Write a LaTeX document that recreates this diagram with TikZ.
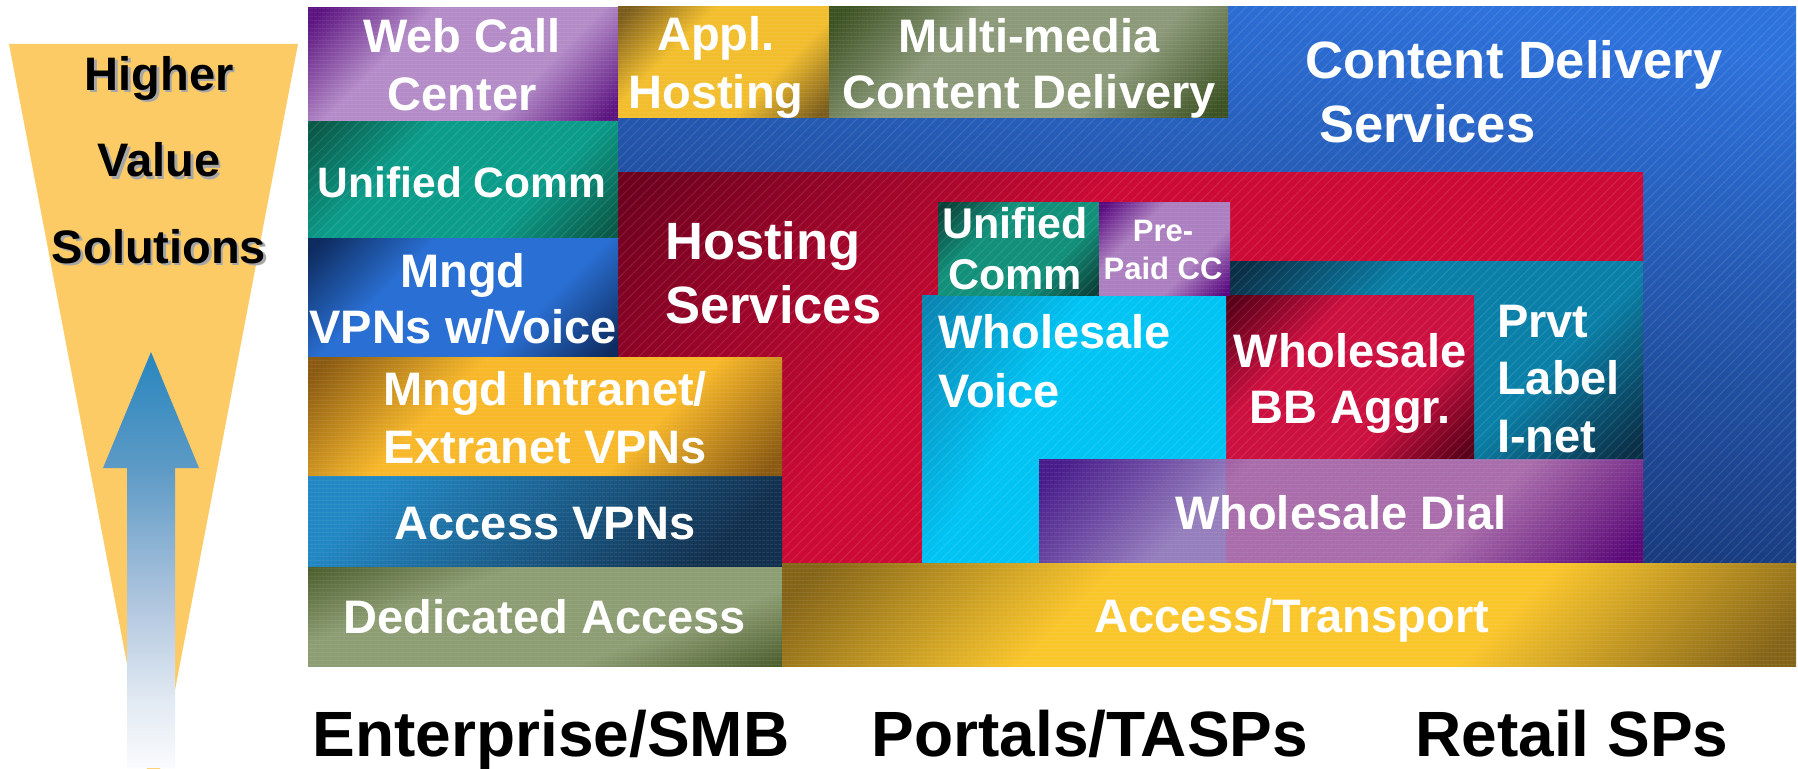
\documentclass[tikz,border=0pt]{standalone}
\usepackage{fontspec}
\setmainfont{Liberation Sans}
\usetikzlibrary{patterns.meta}

% colours of the blocks (dark / light pairs)
\definecolor{wccDk}{HTML}{5C1480}\definecolor{wccLt}{HTML}{B48CC8}
\definecolor{applDk}{HTML}{7A5C1C}\definecolor{applLt}{HTML}{F2BE2E}
\definecolor{mmDk}{HTML}{3C5222}\definecolor{mmLt}{HTML}{8C9A7A}
\definecolor{cdsDk}{HTML}{142E68}\definecolor{cdsLt}{HTML}{2E72DC}
\definecolor{hostDk}{HTML}{6E001E}\definecolor{hostLt}{HTML}{CC0A35}
\definecolor{prvtDk}{HTML}{0A3048}\definecolor{prvtLt}{HTML}{0A80A8}
\definecolor{wbbDk}{HTML}{5A0018}\definecolor{wbbLt}{HTML}{CC1040}
\definecolor{wvDk}{HTML}{0A82B0}\definecolor{wvLt}{HTML}{00C4F4}
\definecolor{wdDk}{HTML}{500A80}\definecolor{wdLt}{HTML}{A678B8}
\definecolor{ucsDk}{HTML}{0A4038}\definecolor{ucsLt}{HTML}{12907A}
\definecolor{ppDk}{HTML}{5A0A80}\definecolor{ppLt}{HTML}{AC80C0}
\definecolor{ucDk}{HTML}{0A5A48}\definecolor{ucLt}{HTML}{0C9C8A}
\definecolor{mvpnDk}{HTML}{0E2C60}\definecolor{mvpnLt}{HTML}{2A70D4}
\definecolor{mieDk}{HTML}{8A5A12}\definecolor{mieLt}{HTML}{F8B82A}
\definecolor{avpnLt}{HTML}{2288C4}\definecolor{avpnDk}{HTML}{12304E}
\definecolor{daDk}{HTML}{485A28}\definecolor{daLt}{HTML}{8E9E74}
\definecolor{atDk}{HTML}{846418}\definecolor{atLt}{HTML}{FAC62C}
\definecolor{funnelcol}{HTML}{FDCB65}
\definecolor{arrowA}{HTML}{2886BE}
\definecolor{arrowB}{HTML}{5D9AC6}
\definecolor{arrowC}{HTML}{AFC5DE}
\definecolor{arrowD}{HTML}{E2EAF3}
\definecolor{arrowE}{HTML}{FAFBFD}

\colorlet{pipedark}{black}\colorlet{pipelight}{white}
\colorlet{rampa}{black}\colorlet{rampb}{white}

% dark - light - dark band
\pgfdeclarehorizontalshading[pipedark,pipelight]{pipe}{100bp}{%
  color(0bp)=(pipedark); color(17bp)=(pipedark); color(36bp)=(pipelight);
  color(64bp)=(pipelight); color(83bp)=(pipedark); color(100bp)=(pipedark)}
% straight ramp between two colours
\pgfdeclarehorizontalshading[rampa,rampb]{ramp}{100bp}{%
  color(0bp)=(rampa); color(25bp)=(rampa); color(75bp)=(rampb); color(100bp)=(rampb)}
% ramp that only darkens one corner
\pgfdeclarehorizontalshading[rampa,rampb]{cornerramp}{100bp}{%
  color(0bp)=(rampa); color(16bp)=(rampa); color(40bp)=(rampb); color(100bp)=(rampb)}
% fading arrow
\pgfdeclareverticalshading{arrowshade}{100bp}{%
  color(0bp)=(arrowE); color(25bp)=(arrowE); color(33bp)=(arrowD);
  color(45bp)=(arrowC); color(61bp)=(arrowB); color(75bp)=(arrowA); color(100bp)=(arrowA)}

\tikzset{
  pipebox/.style n args={3}{/utils/exec={\colorlet{pipedark}{#1}\colorlet{pipelight}{#2}},
    shading=pipe, shading angle=#3},
  rampbox/.style n args={3}{/utils/exec={\colorlet{rampa}{#1}\colorlet{rampb}{#2}},
    shading=ramp, shading angle=#3},
  cornerbox/.style n args={3}{/utils/exec={\colorlet{rampa}{#1}\colorlet{rampb}{#2}},
    shading=cornerramp, shading angle=#3},
  stripes/.style={postaction={pattern={Lines[angle=45,distance=7pt,line width=1pt]},
    pattern color=white, opacity=0.10}},
  weave/.style={postaction={pattern={Lines[angle=0,distance=4pt,line width=1.2pt]},
    pattern color=white, opacity=0.08}},
  lbl/.style={text=white, inner sep=0pt, anchor=base,
    font=\bfseries\fontsize{47}{57.5}\selectfont},
  biglbl/.style={lbl, font=\bfseries\fontsize{52.5}{63.5}\selectfont},
  axislbl/.style={text=black, inner sep=0pt, anchor=base,
    font=\bfseries\fontsize{64}{70}\selectfont},
  valuelbl/.style={inner sep=0pt, anchor=base, align=center,
    font=\bfseries\fontsize{47}{86.5}\selectfont},
}

\begin{document}
\begin{tikzpicture}[x=1pt,y=-1pt]
\useasboundingbox (0,0) rectangle (1798,768);
\fill[white] (0,0) rectangle (1798,768);

% value funnel and rising arrow
\begin{scope}
  \clip (0,0) rectangle (1798,768);
  \fill[funnelcol] (9,44) -- (298,44) -- (153.5,803) -- cycle;
\end{scope}
\shade[shading=arrowshade] (151,352) -- (199,468) -- (175,468) -- (175,768)
  -- (127,768) -- (127,468) -- (103,468) -- cycle;
% multi-line labels are placed by the baseline of their last line
\node[valuelbl, text=black!35] (hvshadow) at (161.5,265.5) {Higher\\Value\\Solutions};
\node[valuelbl, text=black] (hv) at (159,263) {Higher\\Value\\Solutions};

% back layers
\shade[rampbox={cdsDk}{cdsLt}{80}, stripes] (618,7) rectangle (1796,563);
\shade[cornerbox={hostDk}{hostLt}{-45}, stripes] (618,172) rectangle (1643,563);
\shade[pipebox={prvtDk}{prvtLt}{-45}, stripes] (1230,261) rectangle (1643,459);
\shade[pipebox={wbbDk}{wbbLt}{-45}, stripes] (1226,295) rectangle (1474,459);
\shade[cornerbox={wvDk}{wvLt}{-30}, stripes] (922,295) rectangle (1226,565);
\shade[pipebox={wdDk}{wdLt}{-45}, weave, opacity=0.9] (1039,459) rectangle (1643,564);
\shade[pipebox={ucsDk}{ucsLt}{-45}, stripes] (938,202) rectangle (1099,295);
\shade[pipebox={ppDk}{ppLt}{-45}, weave] (1099,202) rectangle (1230,295);

% enterprise column and top row
\shade[pipebox={wccDk}{wccLt}{-45}, weave] (308,8) rectangle (618,121);
\shade[pipebox={applDk}{applLt}{-45}, weave] (618,7) rectangle (829,117);
\shade[pipebox={mmDk}{mmLt}{-45}, weave] (829,7) rectangle (1228,117);
\shade[pipebox={ucDk}{ucLt}{-45}, stripes] (308,121) rectangle (618,238);
\shade[pipebox={mvpnDk}{mvpnLt}{-45}] (308,238) rectangle (618,358);
\shade[pipebox={mieDk}{mieLt}{-45}, weave] (308,357) rectangle (782,476);
\shade[rampbox={avpnLt}{avpnDk}{-45}, weave] (308,476) rectangle (782,567);
\shade[pipebox={daDk}{daLt}{-70}, weave] (308,567) rectangle (782,666);
\shade[pipebox={atDk}{atLt}{-45}, weave] (782,563) rectangle (1796,666);

% block labels
\node[lbl, align=center] (wcc) at (462,110) {Web Call\\Center};
\node[lbl, align=center] (appl) at (716,108) {Appl.\\Hosting};
\node[lbl, align=center, font=\bfseries\fontsize{47}{56}\selectfont] (mm) at (1029,108) {Multi-media\\Content Delivery};
\node[biglbl, align=left, anchor=base west] (cds) at (1305,142) {Content Delivery\\\hspace*{14pt}Services};
\node[lbl, font=\bfseries\fontsize{42.5}{52}\selectfont] (uc) at (462,197) {Unified Comm};
\node[lbl, align=center, font=\bfseries\fontsize{47}{56}\selectfont] (mvpn) at (463,343) {Mngd\\VPNs w/Voice};
\node[biglbl, align=left, anchor=base west] (hs) at (665,323) {Hosting\\Services};
\node[lbl, align=center, font=\bfseries\fontsize{47}{58}\selectfont] (mie) at (545,463) {Mngd Intranet/\\Extranet VPNs};
\node[lbl] (avpn) at (545,539) {Access VPNs};
\node[lbl] (da) at (545,633) {Dedicated Access};
\node[lbl] (at) at (1292,632) {Access/Transport};
\node[lbl, align=center, font=\bfseries\fontsize{43}{51}\selectfont] (ucs) at (1015,289) {Unified\\Comm};
\node[lbl, align=center, font=\bfseries\fontsize{31}{38}\selectfont] (pp) at (1163,279) {Pre-\\Paid CC};
\node[lbl, align=left, anchor=base west, font=\bfseries\fontsize{47}{59}\selectfont] (wv) at (938,407) {Wholesale\\Voice};
\node[lbl, align=center, font=\bfseries\fontsize{47}{56}\selectfont] (wbb) at (1350,423) {Wholesale\\BB Aggr.};
\node[lbl, align=left, anchor=base west] (pl) at (1497,452) {Prvt\\Label\\I-net};
\node[lbl] (wd) at (1341,529) {Wholesale Dial};

% market segments
\node[axislbl] (ent) at (551,756) {Enterprise/SMB};
\node[axislbl] (portals) at (1090,756) {Portals/TASPs};
\node[axislbl] (retail) at (1572,756) {Retail SPs};
\end{tikzpicture}
\end{document}
